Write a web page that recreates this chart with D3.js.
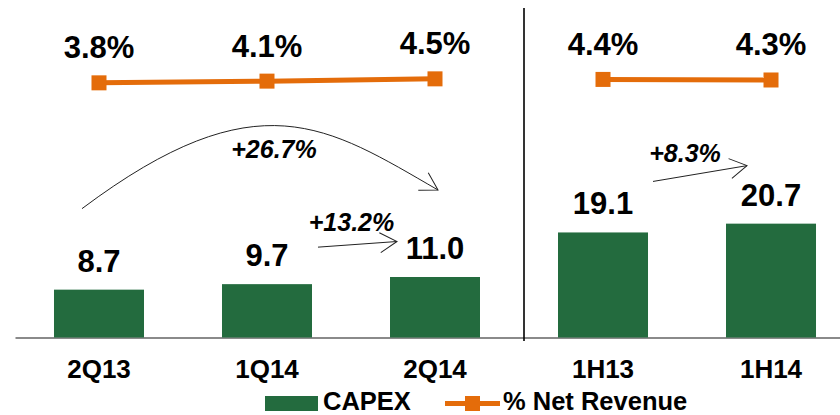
<!DOCTYPE html>
<html>
<head>
<meta charset="utf-8">
<script src="https://cdn.jsdelivr.net/npm/d3@7"></script>
<style>
  html, body { margin: 0; padding: 0; background: #ffffff; }
  svg { display: block; font-family: "Liberation Sans", Arial, sans-serif; }
</style>
</head>
<body>
<svg id="chart" width="840" height="415"></svg>
<script>
// ---- data ----
const categories = ["2Q13", "1Q14", "2Q14", "1H13", "1H14"];
const capexValues = [8.7, 9.7, 11.0, 19.1, 20.7];
const capexLabels = ["8.7", "9.7", "11.0", "19.1", "20.7"];
const revenuePct = [3.8, 4.1, 4.5, 4.4, 4.3];
const revenueLabels = ["3.8%", "4.1%", "4.5%", "4.4%", "4.3%"];
const lineGroups = [["2Q13", "1Q14", "2Q14"], ["1H13", "1H14"]];
const growthLabels = ["+26.7%", "+13.2%", "+8.3%"];
const legendLabels = ["CAPEX", "% Net Revenue"];

const GREEN = "#236b3e";
const ORANGE = "#e46c0a";

const svg = d3.select("#chart");

const x = d3.scaleBand().domain(categories).range([15, 855])
  .paddingInner(0.4643).paddingOuter(0.2321);
const cx = c => x(c) + x.bandwidth() / 2;
const yBar = d3.scaleLinear().domain([0, 60]).range([337.5, 7.5]);
const yLine = d3.scaleLinear().domain([0, 20]).range([104.5, -9.5]);

// axis
const axisG = svg.append("g").attr("transform", `translate(0,${yBar(0)})`)
  .call(d3.axisBottom(x).tickSize(0).tickPadding(0));
axisG.select(".domain").attr("stroke", "#8a8a8a").attr("stroke-width", 2);
axisG.selectAll(".tick text")
  .attr("y", 40.5).attr("dy", 0)
  .attr("font-size", 26).attr("font-weight", "bold")
  .attr("fill", "#000").attr("font-family", "Liberation Sans, Arial, sans-serif");

// divider
const divX = x("1H13") - 34;
svg.append("line").attr("x1", divX).attr("x2", divX)
  .attr("y1", 8).attr("y2", yBar(0) + 3.5)
  .attr("stroke", "#000").attr("stroke-width", 1.6);

// bars
svg.selectAll("rect.bar").data(categories).join("rect")
  .attr("class", "bar")
  .attr("x", d => x(d)).attr("width", x.bandwidth())
  .attr("y", (d, i) => yBar(capexValues[i]))
  .attr("height", (d, i) => yBar(0) - yBar(capexValues[i]))
  .attr("fill", GREEN);

svg.selectAll("text.barlab").data(categories).join("text")
  .attr("class", "barlab")
  .attr("x", d => cx(d))
  .attr("y", (d, i) => yBar(capexValues[i]) - 18)
  .attr("text-anchor", "middle").attr("font-size", 31).attr("font-weight", "bold")
  .text((d, i) => capexLabels[i]);

// line
const lineGen = d3.line().x(d => cx(d)).y(d => yLine(revenuePct[categories.indexOf(d)]));
lineGroups.forEach(g => {
  svg.append("path").attr("d", lineGen(g))
    .attr("fill", "none").attr("stroke", ORANGE).attr("stroke-width", 5);
});
svg.selectAll("rect.mk").data(categories).join("rect")
  .attr("class", "mk")
  .attr("x", d => cx(d) - 7.5).attr("width", 15)
  .attr("y", (d, i) => yLine(revenuePct[i]) - 7.5).attr("height", 15)
  .attr("fill", ORANGE);
svg.selectAll("text.pct").data(categories).join("text")
  .attr("class", "pct")
  .attr("x", d => cx(d))
  .attr("y", (d, i) => yLine(revenuePct[i]) - 24.5)
  .attr("text-anchor", "middle").attr("font-size", 31).attr("font-weight", "bold")
  .text((d, i) => revenueLabels[i]);

// arrow marker
svg.append("defs").append("marker")
  .attr("id", "arr").attr("markerUnits", "userSpaceOnUse")
  .attr("viewBox", "-20 -12 22 24").attr("refX", 0).attr("refY", 0)
  .attr("markerWidth", 22).attr("markerHeight", 24).attr("orient", "auto")
  .append("path").attr("d", "M-17,-10 L0,0 L-17,10")
  .attr("fill", "none").attr("stroke", "#222").attr("stroke-width", 1);

// +26.7% arc
const a0 = [cx("2Q13") - 17, yBar(8.7) - 81];
const a3 = [cx("2Q14") + 3, yBar(11.0) - 87];
const arcPath = d3.path();
arcPath.moveTo(a0[0], a0[1]);
arcPath.bezierCurveTo(a0[0] + 176, a0[1] - 132, a3[0] - 110, a3[1] - 63.5, a3[0], a3[1]);
svg.append("path").attr("d", arcPath.toString())
  .attr("fill", "none").attr("stroke", "#222").attr("stroke-width", 1)
  .attr("marker-end", "url(#arr)");
svg.append("text").attr("x", (cx("1Q14") + cx("2Q14")) / 2 - 77).attr("y", 158)
  .attr("text-anchor", "middle").attr("font-size", 25).attr("font-weight", "bold")
  .attr("font-style", "italic").text(growthLabels[0]);

// +13.2% arrow
svg.append("line")
  .attr("x1", cx("1Q14") + 51).attr("y1", yBar(9.7) - 37)
  .attr("x2", cx("2Q14") - 38).attr("y2", yBar(11.0) - 35.5)
  .attr("stroke", "#222").attr("stroke-width", 1).attr("marker-end", "url(#arr)");
svg.append("text").attr("x", (cx("1Q14") + cx("2Q14")) / 2 + 0.5).attr("y", 231)
  .attr("text-anchor", "middle").attr("font-size", 25).attr("font-weight", "bold")
  .attr("font-style", "italic").text(growthLabels[1]);

// +8.3% arrow
svg.append("line")
  .attr("x1", cx("1H13") + 50).attr("y1", yBar(19.1) - 51)
  .attr("x2", cx("1H14") - 24).attr("y2", yBar(20.7) - 58)
  .attr("stroke", "#222").attr("stroke-width", 1).attr("marker-end", "url(#arr)");
svg.append("text").attr("x", (cx("1H13") + cx("1H14")) / 2 - 2).attr("y", 162)
  .attr("text-anchor", "middle").attr("font-size", 25).attr("font-weight", "bold")
  .attr("font-style", "italic").text(growthLabels[2]);

// legend
const leg = svg.append("g");
leg.append("rect").attr("x", 265).attr("y", 396).attr("width", 53).attr("height", 15).attr("fill", GREEN);
leg.append("text").attr("x", 323).attr("y", 409.5).attr("font-size", 25.5).attr("font-weight", "bold").text(legendLabels[0]);
leg.append("line").attr("x1", 445).attr("x2", 500).attr("y1", 403.5).attr("y2", 403.5)
  .attr("stroke", ORANGE).attr("stroke-width", 5);
leg.append("rect").attr("x", 465).attr("y", 396).attr("width", 15).attr("height", 15).attr("fill", ORANGE);
leg.append("text").attr("x", 503).attr("y", 409.5).attr("font-size", 25.5).attr("font-weight", "bold").text(legendLabels[1]);
</script>
</body>
</html>
